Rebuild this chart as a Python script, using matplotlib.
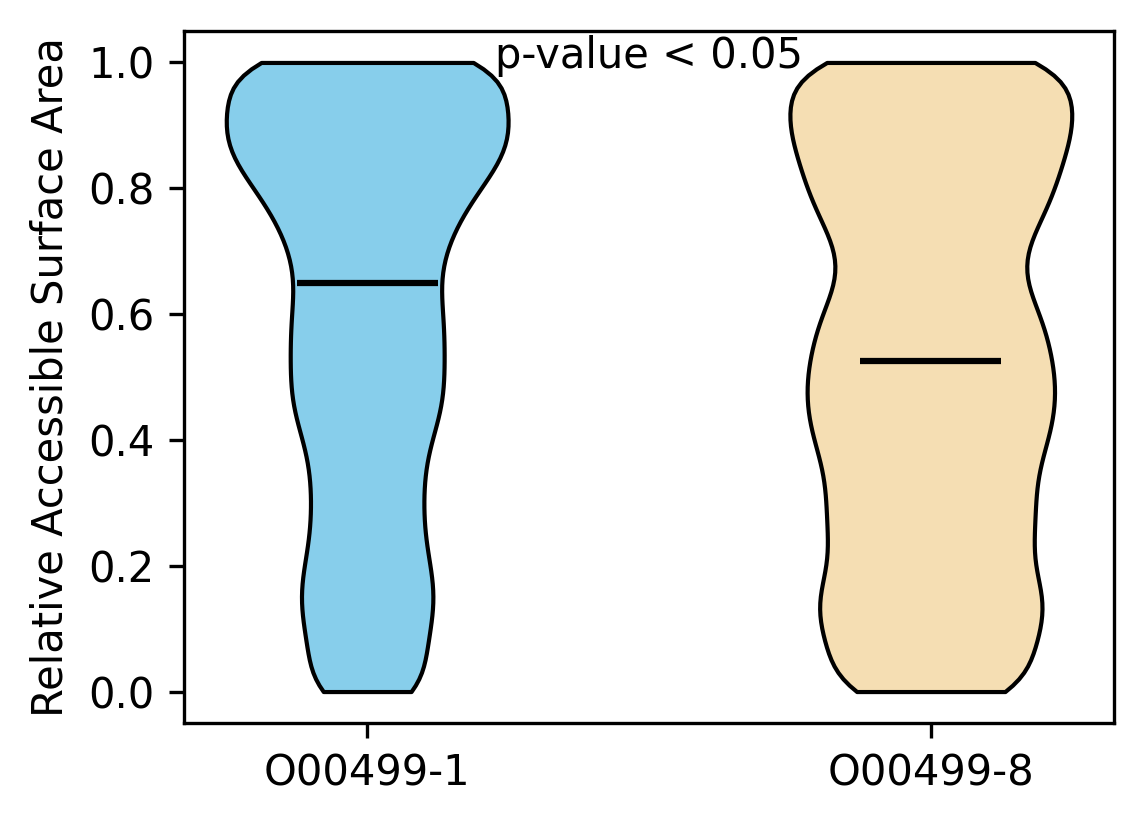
import numpy as np
import matplotlib
matplotlib.use("Agg")
import matplotlib.pyplot as plt

# Relative ASA levels (binned) and how many residues fall at each level
rsa_levels = [0.00, 0.05, 0.10, 0.15, 0.20, 0.25, 0.30, 0.35, 0.40, 0.45, 0.50,
              0.55, 0.60, 0.65, 0.70, 0.75, 0.80, 0.85, 0.90, 0.95, 1.00]
counts_1 = [9, 8, 9, 10, 9, 8, 8, 8, 9, 11, 11, 11, 11, 10, 11, 13, 16, 20, 21, 19, 22]
counts_8 = [15, 14, 16, 17, 14, 15, 15, 15, 17, 18, 18, 17, 16, 13, 13, 16, 18, 19, 21, 20, 21]

labels = ["O00499-1", "O00499-8"]
colors = ["skyblue", "wheat"]
annotation = "p-value < 0.05"

data = [np.repeat(rsa_levels, counts_1), np.repeat(rsa_levels, counts_8)]

fig = plt.figure(figsize=(1144 / 300, 824 / 300), dpi=300)
ax = fig.add_axes([184 / 1144, 1 - 723 / 824, (1114 - 184) / 1144, (723 - 31) / 824])

bw = lambda k: 0.045 / np.std(k.dataset, ddof=1)
parts = ax.violinplot(data, positions=[1, 2], showmedians=True, showextrema=False,
                      bw_method=bw)
for pc, c in zip(parts["bodies"], colors):
    pc.set_facecolor(c)
    pc.set_edgecolor("black")
    pc.set_linewidth(1.0)
    pc.set_alpha(1)
parts["cmedians"].set_color("black")
parts["cmedians"].set_linewidth(1.5)

ax.set_xticks([1, 2])
ax.set_xticklabels(labels)
ax.set_ylabel("Relative Accessible Surface Area")
ax.text(1.5, 1.01, annotation, ha="center", va="center")

fig.savefig("out.png", dpi=300)
